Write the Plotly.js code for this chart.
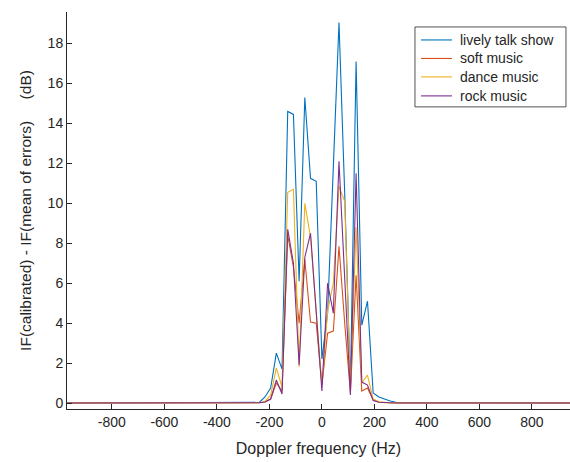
<!DOCTYPE html>
<html>
<head>
<meta charset="utf-8">
<script src="https://cdn.plot.ly/plotly-3.0.1.min.js"></script>
<style>html,body{margin:0;padding:0;background:#fff;}#chart{width:570px;height:462px;}</style>
</head>
<body>
<div id="chart"></div>
<script>
const freq = [-976, -260.4, -238.7, -217, -195.3, -173.6, -151.9, -130.2, -108.5, -86.8, -65.1, -43.4, -21.7, 0, 21.7, 43.4, 65.1, 86.8, 108.5, 130.2, 151.9, 173.6, 195.3, 217, 238.7, 260.4, 282.1, 976];
const talkShow = [0, 0.01, 0.03, 0.3, 0.75, 2.5, 1.7, 14.6, 14.45, 6.1, 15.3, 11.25, 11.1, 2.2, 4.5, 11.8, 19.05, 10.5, 0.8, 17.1, 3.9, 5.1, 0.5, 0.3, 0.2, 0.1, 0.04, 0];
const softMusic = [0, 0, 0.01, 0.05, 0.2, 1.0, 0.6, 8.4, 6.8, 4.0, 7.2, 4.05, 4.0, 0.9, 3.5, 3.6, 7.85, 4.0, 0.5, 6.4, 0.6, 0.75, 0.15, 0.05, 0.02, 0.01, 0, 0];
const danceMusic = [0, 0, 0.01, 0.08, 0.4, 1.75, 0.8, 10.55, 10.7, 1.8, 10.0, 8.3, 4.5, 0.9, 4.6, 6.0, 10.85, 10.1, 0.8, 8.8, 1.0, 1.4, 0.2, 0.06, 0.02, 0.01, 0, 0];
const rockMusic = [0, 0, 0.01, 0.05, 0.2, 1.15, 0.45, 8.7, 7.0, 1.9, 7.3, 8.5, 4.5, 0.6, 6.0, 4.5, 12.1, 6.0, 0.4, 11.5, 1.05, 0.9, 0.12, 0.04, 0.02, 0.01, 0, 0];
const seriesNames = ['lively talk show', 'soft music', 'dance music', 'rock music'];
const seriesColors = ['#0072BD', '#D95319', '#EDB120', '#7E2F8E'];
const xTicks = [-800, -600, -400, -200, 0, 200, 400, 600, 800];
const yTicks = [0, 2, 4, 6, 8, 10, 12, 14, 16, 18];

const ys = [talkShow, softMusic, danceMusic, rockMusic];
const traces = ys.map((y, i) => ({
  x: freq, y: y, type: 'scatter', mode: 'lines', name: seriesNames[i],
  line: {color: seriesColors[i], width: 1.1}, showlegend: false
}));

const axisCol = '#262626';
// legend box drawn manually (paper coordinates)
const L = {x0: 0.6918, x1: 0.992, y0: 0.761, y1: 0.9623, lx0: 0.7038, lx1: 0.7654, tx: 0.7773,
           rows: [0.9296, 0.883, 0.8365, 0.7887]};
const shapes = [{type: 'rect', xref: 'paper', yref: 'paper', x0: L.x0, x1: L.x1, y0: L.y0, y1: L.y1,
                 line: {color: axisCol, width: 0.8}, fillcolor: '#fff', layer: 'above'}];
const annotations = [];
seriesNames.forEach((n, i) => {
  shapes.push({type: 'line', xref: 'paper', yref: 'paper', x0: L.lx0, x1: L.lx1, y0: L.rows[i], y1: L.rows[i],
               line: {color: seriesColors[i], width: 1.1}, layer: 'above'});
  annotations.push({xref: 'paper', yref: 'paper', x: L.tx, y: L.rows[i], xanchor: 'left', yanchor: 'middle',
                    text: n, showarrow: false, font: {size: 14, color: axisCol}});
});

const layout = {
  width: 570, height: 462,
  margin: {l: 67, r: 0, t: 12, b: 52.5, pad: 0},
  paper_bgcolor: '#fff', plot_bgcolor: '#fff',
  font: {family: 'Liberation Sans, Arial, sans-serif', size: 14, color: axisCol},
  showlegend: false,
  shapes: shapes,
  annotations: annotations,
  xaxis: {
    range: [-971, 945], tickvals: xTicks, ticktext: xTicks.map(String),
    ticks: 'inside', ticklen: 5, tickcolor: axisCol, tickwidth: 1,
    showline: true, linecolor: axisCol, linewidth: 1, mirror: false,
    showgrid: false, zeroline: false,
    tickfont: {size: 14, color: axisCol},
    title: {text: 'Doppler frequency (Hz)', font: {size: 16, color: axisCol}, standoff: 14}
  },
  yaxis: {
    range: [-0.3, 19.58], tickvals: yTicks, ticktext: yTicks.map(String),
    ticks: 'inside', ticklen: 5, tickcolor: axisCol, tickwidth: 1,
    showline: true, linecolor: axisCol, linewidth: 1, mirror: false,
    showgrid: false, zeroline: false,
    tickfont: {size: 14, color: axisCol},
    title: {text: 'IF(calibrated) - IF(mean of errors)\u00A0\u00A0\u00A0\u00A0\u00A0(dB)', font: {size: 15.5, color: axisCol}, standoff: 12}
  }
};
Plotly.newPlot('chart', traces, layout, {staticPlot: true, displayModeBar: false});
</script>
</body>
</html>
